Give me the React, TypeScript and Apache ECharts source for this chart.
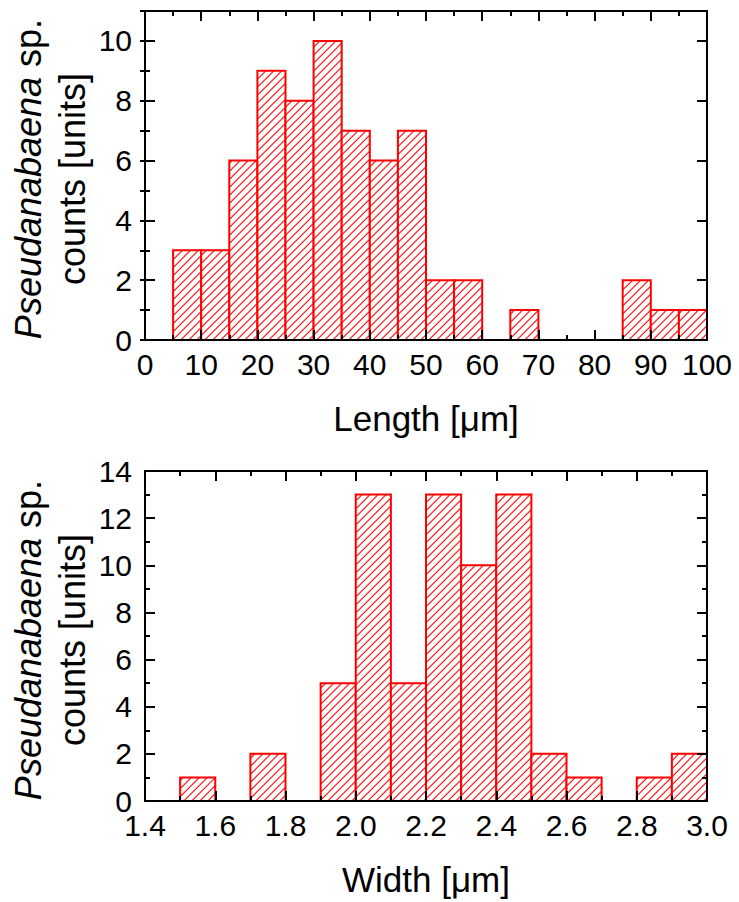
import React, { useEffect, useRef } from "react";
import * as echarts from "echarts";

// ---- Data ----
const lengthBinStarts = [5, 10, 15, 20, 25, 30, 35, 40, 45, 50, 55, 60, 65, 70, 75, 80, 85, 90, 95];
const lengthBinWidth = 5;
const lengthCounts = [3, 3, 6, 9, 8, 10, 7, 6, 7, 2, 2, 0, 1, 0, 0, 0, 2, 1, 1];

const widthBinStarts = [1.5, 1.6, 1.7, 1.8, 1.9, 2.0, 2.1, 2.2, 2.3, 2.4, 2.5, 2.6, 2.7, 2.8, 2.9];
const widthBinWidth = 0.1;
const widthCounts = [1, 0, 2, 0, 5, 13, 5, 13, 10, 13, 2, 1, 0, 1, 2];

const lengthTitle = "Length [μm]";
const widthTitle = "Width [μm]";

const REG = "'Liberation Sans', Arial, sans-serif";
const RED = "#ff0000";

function toBins(starts: number[], w: number, counts: number[]) {
  const out: number[][] = [];
  starts.forEach((s, i) => {
    if (counts[i] > 0) out.push([s, +(s + w).toFixed(4), counts[i]]);
  });
  return out;
}

type Pt = number[];
function clipPoly(poly: Pt[], f: (p: Pt) => number): Pt[] {
  const out: Pt[] = [];
  for (let i = 0; i < poly.length; i++) {
    const a = poly[i];
    const b = poly[(i + 1) % poly.length];
    const fa = f(a);
    const fb = f(b);
    if (fa >= 0) out.push(a);
    if ((fa >= 0) !== (fb >= 0)) {
      const t = fa / (fa - fb);
      out.push([a[0] + (b[0] - a[0]) * t, a[1] + (b[1] - a[1]) * t]);
    }
  }
  return out;
}

function renderHist(params: any, api: any) {
  const a = api.value(0);
  const b = api.value(1);
  const v = api.value(2);
  const p0 = api.coord([a, v]);
  const p1 = api.coord([b, 0]);
  const x0 = p0[0], y0 = p0[1], x1 = p1[0], y1 = p1[1];
  const children: any[] = [
    {
      type: "rect",
      shape: { x: x0, y: y0, width: x1 - x0, height: y1 - y0 },
      style: { fill: "#ffffff" },
    },
  ];
  const s = 8;
  const th = 1.5;
  const rect: Pt[] = [[x0, y0], [x1, y0], [x1, y1], [x0, y1]];
  for (let c = Math.floor((x0 + y0) / s) * s; c <= x1 + y1; c += s) {
    let poly = clipPoly(rect, (p) => p[0] + p[1] - c);
    poly = clipPoly(poly, (p) => c + th - (p[0] + p[1]));
    if (poly.length >= 3) {
      children.push({
        type: "polygon",
        shape: { points: poly },
        style: { fill: RED },
      });
    }
  }
  children.push({
    type: "rect",
    shape: { x: x0, y: y0, width: x1 - x0, height: y1 - y0 },
    style: { fill: "none", stroke: RED, lineWidth: 2 },
  });
  return { type: "group", children };
}

const axisLineStyle = { show: true, onZero: false, lineStyle: { color: "#000", width: 2 } };
const tickMajor = { show: true, inside: true, length: 10, lineStyle: { color: "#000", width: 2 } };
const tickMinor = { show: true, splitNumber: 2, length: 5, lineStyle: { color: "#000", width: 2 } };

function xAxes(gridIndex: number, min: number, max: number, interval: number, fmt: (v: number) => string, name: string) {
  const base: any = {
    type: "value",
    gridIndex,
    min,
    max,
    interval,
    z: 5,
    axisLine: axisLineStyle,
    axisTick: tickMajor,
    minorTick: tickMinor,
    splitLine: { show: false },
  };
  return [
    {
      ...base,
      position: "bottom",
      name,
      nameLocation: "middle",
      nameGap: 61,
      nameTextStyle: { fontFamily: REG, fontSize: 35, color: "#000" },
      axisLabel: { show: true, margin: 14, lineHeight: 20, fontFamily: REG, fontSize: 30, color: "#000", formatter: fmt },
    },
    { ...base, position: "top", axisLabel: { show: false } },
  ];
}

export default function App() {
  const ref = useRef<HTMLDivElement>(null);
  useEffect(() => {
    if (!ref.current) return;
    const chart = echarts.init(ref.current, undefined, { renderer: "svg" });

    const yLabel = { show: true, margin: 13, lineHeight: 20, fontFamily: REG, fontSize: 30, color: "#000" };
    const yTop = (position: string, labels: boolean) => ({
      type: "value",
      gridIndex: 0,
      position,
      min: 0,
      max: 11,
      interval: 2,
      z: 5,
      axisLine: axisLineStyle,
      axisTick: tickMajor,
      splitLine: { show: false },
      axisLabel: labels ? { ...yLabel, showMaxLabel: false } : { show: false },
    });
    const yTopMinor = (position: string) => ({
      type: "value",
      gridIndex: 0,
      position,
      min: 0,
      max: 11,
      interval: 1,
      z: 5,
      axisLine: { show: false },
      axisTick: { show: true, inside: true, length: 5, lineStyle: { color: "#000", width: 2 } },
      splitLine: { show: false },
      axisLabel: { show: false },
    });
    const yBot = (position: string, labels: boolean) => ({
      type: "value",
      gridIndex: 1,
      position,
      min: 0,
      max: 14,
      interval: 2,
      z: 5,
      axisLine: axisLineStyle,
      axisTick: tickMajor,
      minorTick: tickMinor,
      splitLine: { show: false },
      axisLabel: labels ? yLabel : { show: false },
    });

    const yTitle = "{i|Pseudanabaena} sp.\ncounts [units]";
    const titleStyle = (y: number) => ({
      type: "text",
      x: 50,
      y,
      rotation: Math.PI / 2,
      style: {
        text: yTitle,
        fontFamily: REG,
        fontSize: 36,
        lineHeight: 44,
        fill: "#000",
        align: "center",
        verticalAlign: "middle",
        rich: { i: { fontStyle: "italic", fontFamily: REG, fontSize: 36, lineHeight: 44 } },
      },
    });

    chart.setOption({
      animation: false,
      backgroundColor: "#fff",
      grid: [
        { left: 145, top: 11, width: 562, height: 329 },
        { left: 145, top: 471, width: 562, height: 330 },
      ],
      xAxis: [
        ...xAxes(0, 0, 100, 10, (v: number) => String(Math.round(v)), lengthTitle),
        ...xAxes(1, 1.4, 3.0, 0.2, (v: number) => v.toFixed(1), widthTitle),
      ],
      yAxis: [
        yTop("left", true),
        yTop("right", false),
        yTopMinor("left"),
        yTopMinor("right"),
        yBot("left", true),
        yBot("right", false),
      ],
      series: [
        {
          type: "custom",
          xAxisIndex: 0,
          yAxisIndex: 0,
          z: 1,
          itemStyle: { color: RED, borderColor: RED },
          renderItem: renderHist,
          data: toBins(lengthBinStarts, lengthBinWidth, lengthCounts),
        },
        {
          type: "custom",
          xAxisIndex: 2,
          yAxisIndex: 4,
          z: 1,
          itemStyle: { color: RED, borderColor: RED },
          renderItem: renderHist,
          data: toBins(widthBinStarts, widthBinWidth, widthCounts),
        },
      ],
      graphic: [titleStyle(179), titleStyle(640)],
    });
    return () => chart.dispose();
  }, []);
  return <div ref={ref} style={{ position: "absolute", left: 0, top: 0, width: 739, height: 902 }} />;
}
